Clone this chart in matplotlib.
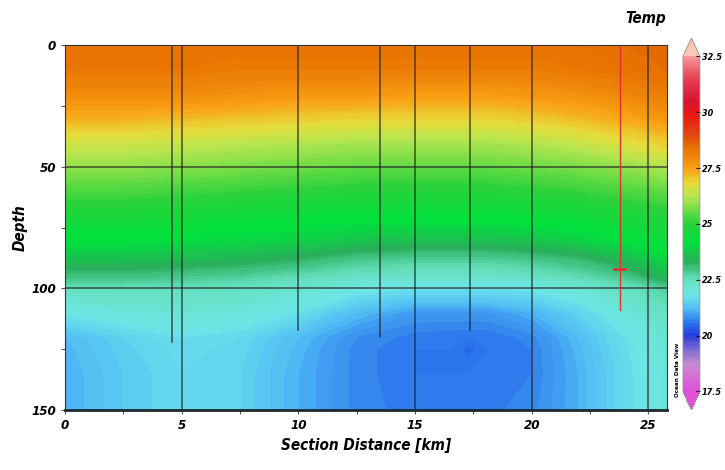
import numpy as np
import matplotlib
matplotlib.use('Agg')
import matplotlib.pyplot as plt
from matplotlib.colors import LinearSegmentedColormap

# section grid: distance [km] and depth [m]
dist = [0, 2.5, 5, 7.5, 10, 12.5, 15, 16.5, 17.3, 18.2, 20, 22, 24, 25.8]
depth = [0, 10, 20, 30, 40, 50, 60, 70, 80, 88, 95, 100, 110, 120, 125, 135, 150]

# temperature, one row per depth
temp = [
    [28.4, 28.4, 28.4, 28.4, 28.4, 28.4, 28.4, 28.4, 28.4, 28.4, 28.4, 28.4, 28.5, 28.6],
    [28.3, 28.3, 28.3, 28.2, 28.2, 28.2, 28.2, 28.2, 28.2, 28.2, 28.2, 28.3, 28.4, 28.5],
    [27.9, 27.9, 27.9, 27.8, 27.7, 27.7, 27.6, 27.6, 27.6, 27.6, 27.7, 27.8, 28.0, 28.2],
    [27.3, 27.3, 27.2, 27.1, 27.0, 26.9, 26.9, 26.9, 26.9, 26.9, 27.0, 27.2, 27.4, 27.7],
    [26.5, 26.5, 26.4, 26.3, 26.2, 26.1, 26.1, 26.1, 26.1, 26.1, 26.2, 26.4, 26.7, 27.0],
    [25.9, 25.9, 25.8, 25.7, 25.6, 25.5, 25.5, 25.5, 25.5, 25.5, 25.6, 25.7, 25.9, 26.2],
    [25.3, 25.3, 25.2, 25.1, 25.0, 24.9, 24.9, 24.9, 24.9, 24.9, 25.0, 25.1, 25.3, 25.5],
    [24.7, 24.7, 24.6, 24.5, 24.4, 24.3, 24.3, 24.3, 24.3, 24.3, 24.4, 24.5, 24.7, 24.9],
    [24.2, 24.2, 24.1, 24.0, 23.9, 23.7, 23.6, 23.6, 23.6, 23.6, 23.7, 23.9, 24.2, 24.5],
    [23.6, 23.6, 23.5, 23.4, 23.2, 22.9, 22.8, 22.8, 22.8, 22.8, 22.9, 23.1, 23.5, 24.0],
    [23.0, 23.0, 22.9, 22.8, 22.6, 22.4, 22.3, 22.3, 22.3, 22.3, 22.4, 22.6, 22.9, 23.5],
    [22.5, 22.5, 22.5, 22.4, 22.2, 21.9, 21.7, 21.7, 21.7, 21.7, 21.8, 22.1, 22.4, 22.8],
    [21.8, 22.0, 22.1, 22.0, 21.7, 21.2, 20.9, 20.9, 20.9, 20.9, 21.1, 21.5, 22.0, 22.4],
    [21.2, 21.5, 21.7, 21.6, 21.2, 20.8, 20.65, 20.62, 20.6, 20.62, 20.75, 21.2, 21.7, 22.2],
    [21.15, 21.45, 21.65, 21.55, 21.15, 20.75, 20.6, 20.6, 20.45, 20.6, 20.7, 21.15, 21.65, 22.15],
    [21.1, 21.4, 21.6, 21.5, 21.1, 20.75, 20.6, 20.6, 20.6, 20.62, 20.7, 21.1, 21.6, 22.1],
    [21.1, 21.4, 21.6, 21.5, 21.1, 20.75, 20.65, 20.65, 20.65, 20.67, 20.75, 21.1, 21.6, 22.1],
]

# station casts: distance and bottom of cast
station_dist = [4.58, 9.98, 13.49, 17.35]
station_bottom = [122, 117, 120, 117]
sel_dist = 23.77
sel_bottom = 109
sel_depth = 92

# ODV-like palette
cmap_vals = [17.5, 18.7, 19.3, 20.0, 20.5, 21.2, 21.8, 22.5, 23.3, 24.2, 25.0,
             26.2, 26.8, 27.5, 28.5, 29.0, 30.0, 30.5, 31.5, 32.5]
cmap_cols = ['#e150d7', '#c88cd2', '#826ed2', '#283cdc', '#286eeb', '#50bef5',
             '#6ee6e6', '#64e1be', '#28af5a', '#00e13c', '#28d23c', '#b4e650',
             '#e6dc3c', '#faa014', '#e66e00', '#e14614', '#eb1414', '#d71432',
             '#e63c50', '#f59696']

plt.rcParams['font.family'] = ['DejaVu Sans']
plt.rcParams['font.stretch'] = 'condensed'

lo, hi = 17.5, 32.5
pos = [(v - lo) / (hi - lo) for v in cmap_vals]
cmap = LinearSegmentedColormap.from_list('odv', list(zip(pos, cmap_cols)))
cmap.set_over('#fac8b4')
cmap.set_under('#e150d7')

fig = plt.figure(figsize=(7.25, 4.7), dpi=100)
ax = fig.add_axes([0.0897, 0.1277, 0.8303, 0.7763])

levels = np.arange(lo, hi + 0.01, 0.1)
cf = ax.contourf(dist, depth, np.array(temp), levels=levels, cmap=cmap, extend='both')

# grid lines
for x in [5, 15, 20, 25]:
    ax.axvline(x, color='#222222', lw=1.2, alpha=0.7)
for y in [50, 100]:
    ax.axhline(y, color='#222222', lw=1.2, alpha=0.7)

# station lines
for x, b in zip(station_dist, station_bottom):
    ax.plot([x, x], [0, b], color='#222222', lw=1.2, alpha=0.7)
ax.plot([sel_dist, sel_dist], [0, sel_bottom], color='#e03030', lw=1.0)
ax.plot([sel_dist - 0.25, sel_dist + 0.25], [sel_depth, sel_depth], color='#e03030', lw=2)

ax.set_xlim(0, 25.8)
ax.set_ylim(150, 0)
ax.set_xticks([0, 5, 10, 15, 20, 25])
ax.set_xticks(np.arange(0, 25.8, 2.5), minor=True)
ax.set_yticks([0, 50, 100, 150])
ax.set_yticks([25, 75, 125], minor=True)
ax.tick_params(axis='both', which='both', direction='out', length=3, width=0.8,
               labelsize=9.5, color='#555555')
for lab in ax.get_xticklabels() + ax.get_yticklabels():
    lab.set_fontstyle('italic')
    lab.set_fontweight('bold')

for s in ax.spines.values():
    s.set_color('#333333')
    s.set_linewidth(0.8)
ax.spines['bottom'].set_linewidth(2)
ax.spines['bottom'].set_color('#1a2a30')

ax.set_xlabel('Section Distance [km]', fontsize=11, fontstyle='italic', fontweight='bold', labelpad=4)
ax.set_ylabel('Depth', fontsize=11, fontstyle='italic', fontweight='bold')
ax.yaxis.set_label_coords(-0.062, 0.5)

# colorbar
cax = fig.add_axes([0.942, 0.128, 0.0234, 0.791])
cb = fig.colorbar(cf, cax=cax, extend='both', extendfrac=0.055)
cb.set_ticks([17.5, 20, 22.5, 25, 27.5, 30, 32.5])
cb.set_ticklabels(['17.5', '20', '22.5', '25', '27.5', '30', '32.5'])
cb.ax.tick_params(direction='in', length=3, width=0.8, labelsize=6.5, pad=1.5)
for lab in cb.ax.get_yticklabels():
    lab.set_fontweight('bold')
    lab.set_fontstyle('italic')
cb.outline.set_edgecolor('#999999')
cb.outline.set_linewidth(0.6)

fig.text(0.891, 0.96, 'Temp', fontsize=11, fontstyle='italic', fontweight='bold', ha='center', va='center')
fig.text(0.934, 0.213, 'Ocean Data View', fontsize=4.5, rotation=90, ha='center', va='center', fontweight='bold')

fig.savefig('out.png', dpi=100)
